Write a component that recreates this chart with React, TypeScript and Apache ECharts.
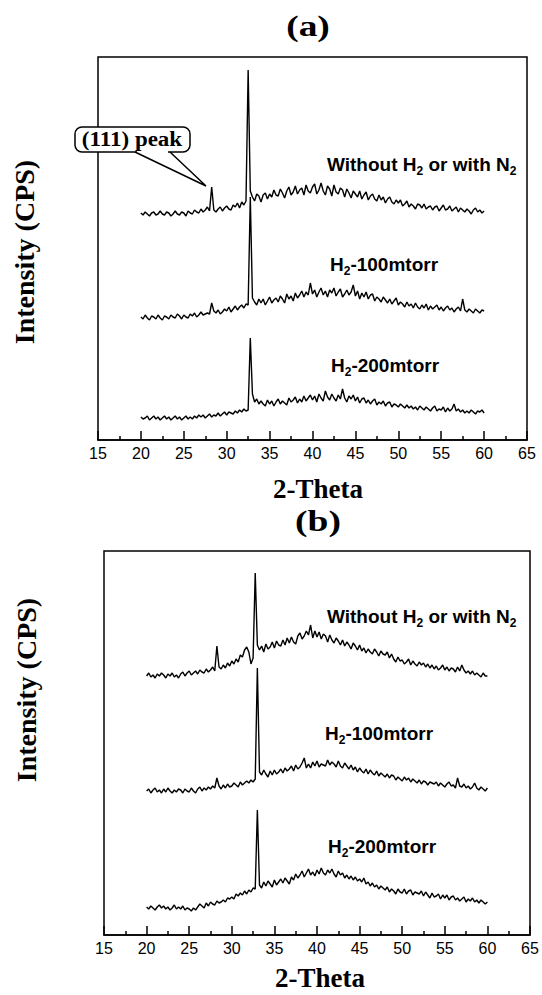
import React, { useEffect, useRef } from 'react';
import * as echarts from 'echarts';

// Scan grid: 2-Theta from 20 to 60 degrees, step 0.25
const THETA_START = 20;
const THETA_STEP = 0.25;

// Panel (a) intensities (arbitrary units, traces offset vertically)
const aWithoutH2 = [
  227, 225, 228, 226, 224, 227, 228, 225, 226, 229, 226, 225, 228, 227, 224, 226,
  229, 226, 225, 228, 227, 224, 229, 227, 226, 230, 228, 227, 231, 228, 230, 233,
  229, 253, 230, 228, 231, 233, 229, 232, 234, 231, 230, 235, 233, 237, 232, 238,
  235, 239, 370, 249, 243, 239, 246, 244, 238, 245, 247, 241, 246, 243, 250, 245,
  244, 251, 247, 242, 249, 253, 245, 248, 254, 246, 250, 252, 245, 255, 249, 247,
  253, 256, 246, 250, 257, 249, 245, 254, 251, 244, 255, 248, 246, 252, 250, 243,
  251, 247, 242, 249, 246, 243, 249, 241, 245, 248, 240, 244, 246, 241, 239, 245,
  240, 243, 237, 241, 243, 238, 236, 240, 237, 240, 234, 236, 239, 233, 236, 234,
  231, 236, 235, 232, 236, 231, 233, 234, 230, 233, 234, 229, 232, 235, 230, 231,
  234, 229, 231, 233, 228, 232, 230, 228, 231, 229, 226, 230, 232, 228, 230, 227,
  229,
];
const aH2_100 = [
  123, 121, 125, 122, 120, 124, 123, 121, 125, 122, 120, 124, 123, 121, 125, 123,
  122, 126, 124, 121, 125, 123, 122, 126, 124, 127, 123, 125, 128, 125, 126, 127,
  126, 137, 129, 127, 130, 126, 128, 131, 129, 133, 128, 131, 134, 130, 133, 135,
  132, 136, 135, 243, 142, 138, 135, 141, 137, 141, 135, 139, 143, 137, 140, 142,
  138, 144, 141, 137, 146, 141, 144, 139, 147, 142, 145, 149, 143, 148, 145, 157,
  146, 150, 143, 148, 152, 145, 149, 143, 150, 147, 152, 144, 148, 151, 143, 146,
  150, 145, 148, 155, 144, 149, 141, 147, 143, 148, 141, 145, 146, 139, 143, 141,
  138, 143, 140, 137, 141, 136, 139, 142, 135, 138, 136, 133, 138, 134, 136, 132,
  137, 133, 131, 135, 132, 136, 130, 134, 131, 133, 135, 130, 133, 129, 132, 134,
  130, 132, 128, 131, 133, 129, 141, 130, 128, 131, 129, 127, 131, 129, 127, 130,
  129,
];
const aH2_200 = [
  23, 21, 22, 24, 20, 22, 24, 21, 23, 20, 22, 24, 21, 23, 20, 22,
  24, 21, 23, 20, 22, 24, 21, 23, 21, 24, 22, 25, 23, 25, 22, 24,
  26, 23, 25, 24, 27, 24, 26, 28, 25, 28, 27, 26, 29, 27, 30, 28,
  31, 29, 30, 102, 46, 38, 41, 36, 39, 36, 34, 40, 36, 39, 34, 38,
  41, 36, 39, 37, 35, 42, 38, 40, 43, 37, 41, 38, 44, 39, 42, 45,
  40, 44, 38, 46, 42, 39, 49, 43, 40, 46, 42, 39, 45, 41, 51, 42,
  38, 44, 41, 45, 39, 43, 37, 41, 42, 37, 40, 36, 39, 41, 35, 38,
  36, 39, 34, 37, 38, 33, 36, 35, 33, 36, 34, 32, 35, 32, 34, 31,
  33, 30, 34, 32, 30, 33, 31, 29, 32, 34, 29, 31, 30, 33, 28, 32,
  29, 31, 36, 29, 31, 28, 30, 27, 29, 27, 30, 28, 26, 29, 28, 30,
  27,
];

// Panel (b) intensities
const bWithoutH2 = [
  259, 262, 258, 260, 257, 261, 259, 262, 260, 257, 261, 259, 262, 258, 260, 257,
  261, 263, 259, 262, 264, 260, 262, 264, 261, 265, 263, 262, 266, 263, 265, 268,
  264, 289, 268, 266, 270, 267, 272, 269, 274, 271, 276, 273, 280, 278, 285, 288,
  283, 271, 277, 362, 290, 285, 289, 283, 291, 286, 288, 293, 287, 294, 290, 289,
  295, 290, 297, 292, 298, 293, 291, 299, 302, 296, 299, 304, 300, 310, 297, 304,
  298, 303, 296, 301, 299, 293, 300, 295, 292, 297, 294, 290, 295, 289, 293, 290,
  286, 292, 289, 285, 290, 284, 287, 282, 286, 283, 281, 286, 283, 279, 284, 281,
  280, 283, 277, 281, 276, 273, 278, 274, 275, 271, 273, 276, 270, 274, 271, 269,
  273, 270, 272, 268, 271, 267, 270, 266, 269, 265, 267, 270, 265, 268, 264, 267,
  266, 263, 268, 264, 270, 265, 262, 264, 261, 264, 260, 262, 260, 258, 262, 259,
  259,
];
const bH2_100 = [
  144, 146, 142, 145, 147, 143, 145, 142, 146, 143, 147, 144, 142, 145, 143, 146,
  145, 142, 146, 144, 143, 147, 144, 142, 146, 148, 144, 147, 145, 148, 146, 149,
  147, 157, 149, 146, 150, 147, 151, 148, 149, 152, 150, 148, 153, 150, 152, 154,
  152, 155, 153, 156, 267, 163, 160, 165, 161, 158, 164, 160, 165, 161, 163, 166,
  162, 167, 164, 166, 169, 164, 170, 166, 168, 172, 177, 167, 171, 167, 173, 169,
  174, 168, 171, 170, 169, 175, 170, 173, 171, 168, 174, 169, 167, 172, 169, 166,
  170, 165, 168, 163, 167, 164, 162, 166, 161, 165, 162, 160, 164, 159, 162, 160,
  158, 161, 157, 160, 159, 155, 158, 156, 154, 158, 155, 157, 153, 156, 154, 152,
  155, 151, 154, 153, 150, 153, 152, 151, 153, 149, 152, 150, 148, 151, 153, 149,
  150, 147, 157, 149, 148, 151, 147, 149, 146, 148, 152, 147, 145, 148, 146, 144,
  147,
];
const bH2_200 = [
  28, 26, 29, 27, 25, 28, 30, 27, 29, 26, 28, 25, 27, 30, 26, 28,
  26, 29, 25, 27, 26, 24, 27, 25, 28, 31, 29, 27, 32, 29, 33, 31,
  30, 34, 32, 33, 35, 33, 37, 36, 38, 36, 41, 39, 42, 40, 44, 41,
  45, 43, 47, 46, 125, 50, 47, 53, 49, 54, 51, 48, 55, 50, 53, 56,
  52, 57, 54, 51, 58, 55, 61, 57, 60, 64, 58, 62, 66, 60, 63, 59,
  65, 61, 67, 62, 60, 65, 62, 66, 61, 58, 64, 60, 62, 57, 60, 56,
  59, 55, 58, 54, 56, 53, 57, 51, 53, 49, 52, 48, 50, 46, 49, 47,
  45, 48, 43, 46, 44, 41, 46, 43, 42, 46, 41, 44, 45, 40, 43, 42,
  41, 44, 39, 43, 40, 37, 42, 38, 39, 41, 36, 40, 37, 40, 35, 38,
  39, 35, 37, 34, 36, 38, 33, 36, 34, 37, 33, 35, 32, 35, 33, 31,
  33,
];

const X_MIN = 15;
const X_MAX = 65;
const X_INTERVAL = 5;

const toPairs = (vals: number[]) => vals.map((v, i) => [THETA_START + i * THETA_STEP, v]);

const SERIF = '"Liberation Serif", "Times New Roman", serif';
const SANS = '"Liberation Sans", Arial, sans-serif';

const labelRich = {
  m: { fontFamily: SANS, fontWeight: 'bold', fontSize: 19, lineHeight: 25, fill: '#000' },
  s: { fontFamily: SANS, fontWeight: 'bold', fontSize: 12, lineHeight: 12, fill: '#000', verticalAlign: 'bottom' },
};

function seriesLabel(text: string, x: number, y: number) {
  return {
    type: 'text',
    x,
    y,
    z: 10,
    style: { text, rich: labelRich, textAlign: 'left', textVerticalAlign: 'middle', fill: '#000' },
  };
}

function xAxisFor(gridIndex: number) {
  return {
    type: 'value',
    gridIndex,
    min: X_MIN,
    max: X_MAX,
    interval: X_INTERVAL,
    axisLine: { show: true, lineStyle: { color: '#000', width: 1.5 } },
    axisTick: { show: true, inside: true, length: 9, lineStyle: { color: '#000', width: 1.5 } },
    minorTick: { show: true, splitNumber: 2, length: 4, lineStyle: { color: '#000', width: 1.5 } },
    axisLabel: { color: '#000', fontFamily: SANS, fontSize: 16, margin: 5 },
    splitLine: { show: false },
    minorSplitLine: { show: false },
  };
}

function yAxisFor(gridIndex: number, max: number) {
  return { type: 'value', gridIndex, min: 0, max, show: false };
}

function lineSeries(data: number[], idx: number, name: string) {
  return {
    type: 'line',
    name,
    xAxisIndex: idx,
    yAxisIndex: idx,
    data: toPairs(data),
    symbol: 'none',
    lineStyle: { color: '#000', width: 1.4 },
    silent: true,
  };
}

export default function App() {
  const ref = useRef<HTMLDivElement>(null);
  useEffect(() => {
    if (!ref.current) return;
    const chart = echarts.init(ref.current, null, { renderer: 'svg' });
    const option = {
      animation: false,
      backgroundColor: '#fff',
      grid: [
        { left: 98, top: 57, width: 429, height: 383, show: true, borderColor: '#000', borderWidth: 1.5, backgroundColor: 'transparent' },
        { left: 104, top: 551, width: 426, height: 384, show: true, borderColor: '#000', borderWidth: 1.5, backgroundColor: 'transparent' },
      ],
      xAxis: [xAxisFor(0), xAxisFor(1)],
      yAxis: [yAxisFor(0, 383), yAxisFor(1, 384)],
      series: [
        lineSeries(aWithoutH2, 0, 'Without H2 or with N2 (a)'),
        lineSeries(aH2_100, 0, 'H2-100mtorr (a)'),
        lineSeries(aH2_200, 0, 'H2-200mtorr (a)'),
        lineSeries(bWithoutH2, 1, 'Without H2 or with N2 (b)'),
        lineSeries(bH2_100, 1, 'H2-100mtorr (b)'),
        lineSeries(bH2_200, 1, 'H2-200mtorr (b)'),
      ],
      graphic: [
        { type: 'text', x: 308, y: 26, scaleX: 1.25, style: { text: '(a)', font: `bold 30px ${SERIF}`, fill: '#000', textAlign: 'center', textVerticalAlign: 'middle' } },
        { type: 'text', x: 318, y: 521, scaleX: 1.25, style: { text: '(b)', font: `bold 30px ${SERIF}`, fill: '#000', textAlign: 'center', textVerticalAlign: 'middle' } },
        { type: 'text', x: 318, y: 489, style: { text: '2-Theta', font: `bold 27px ${SERIF}`, fill: '#000', textAlign: 'center', textVerticalAlign: 'middle' } },
        { type: 'text', x: 320, y: 978, style: { text: '2-Theta', font: `bold 27px ${SERIF}`, fill: '#000', textAlign: 'center', textVerticalAlign: 'middle' } },
        { type: 'text', x: 24, y: 252, rotation: Math.PI / 2, style: { text: 'Intensity (CPS)', font: `bold 28px ${SERIF}`, fill: '#000', textAlign: 'center', textVerticalAlign: 'middle' } },
        { type: 'text', x: 26, y: 690, rotation: Math.PI / 2, style: { text: 'Intensity (CPS)', font: `bold 28px ${SERIF}`, fill: '#000', textAlign: 'center', textVerticalAlign: 'middle' } },
        seriesLabel('{m|Without H}{s|2}{m| or with N}{s|2}', 327, 164),
        seriesLabel('{m|H}{s|2}{m|-100mtorr}', 330, 264),
        seriesLabel('{m|H}{s|2}{m|-200mtorr}', 331, 365),
        seriesLabel('{m|Without H}{s|2}{m| or with N}{s|2}', 327, 616),
        seriesLabel('{m|H}{s|2}{m|-100mtorr}', 325, 733),
        seriesLabel('{m|H}{s|2}{m|-200mtorr}', 328, 846),
        // (111) peak callout
        { type: 'rect', z: 20, shape: { x: 75, y: 127, width: 115, height: 25, r: 7 }, style: { fill: '#fff', stroke: '#000', lineWidth: 1.5 } },
        { type: 'line', z: 21, shape: { x1: 137, y1: 152, x2: 168, y2: 152 }, style: { stroke: '#fff', lineWidth: 2.5 } },
        { type: 'polyline', z: 22, shape: { points: [[135, 152], [206, 186], [170, 152]] }, style: { stroke: '#000', lineWidth: 1.5, fill: null } },
        { type: 'text', z: 23, x: 132, y: 139.5, scaleX: 1.15, style: { text: '(111) peak', font: `bold 20px ${SERIF}`, fill: '#000', textAlign: 'center', textVerticalAlign: 'middle' } },
      ],
    };
    chart.setOption(option as any);
    return () => chart.dispose();
  }, []);
  return <div ref={ref} style={{ position: 'absolute', left: 0, top: 0, width: 542, height: 995 }} />;
}
